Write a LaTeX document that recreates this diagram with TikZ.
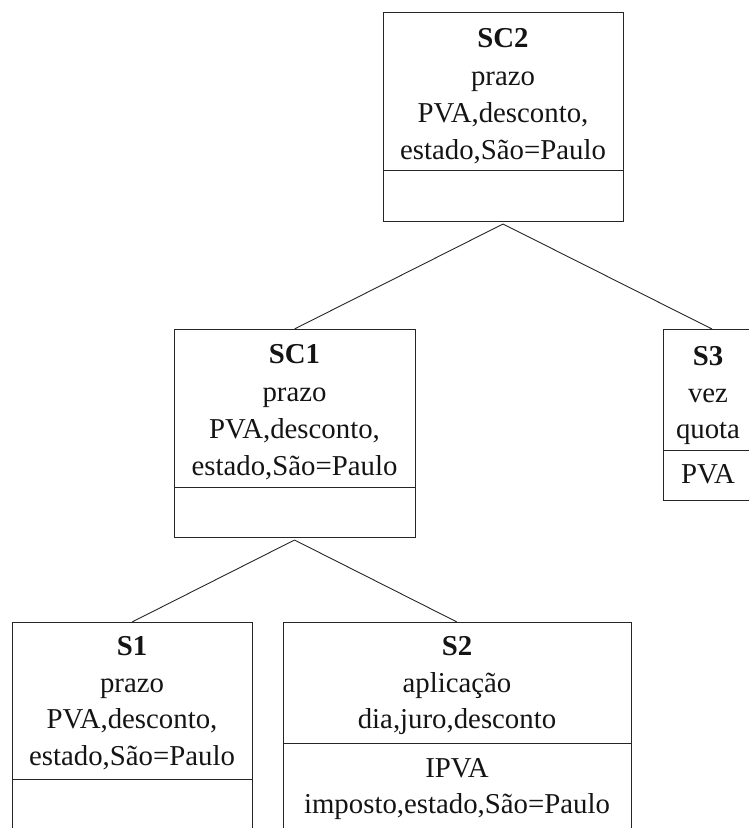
\documentclass[tikz,border=0pt]{standalone}
\usepackage{fontspec}
\setmainfont{Liberation Serif}
\begin{document}
\begin{tikzpicture}[x=1pt,y=-1pt,
  linec/.style={draw=black!85, line width=1pt},
  box/.style={rectangle, linec, inner sep=0pt, outer sep=0pt},
  txt/.style={anchor=base, inner sep=0pt, font=\fontsize{28.8}{36}\selectfont, text=black!92},
  divider/.style={linec},
  edge/.style={linec, line width=0.9pt}]
\useasboundingbox (0,0) rectangle (749,828);
\clip (0,0) rectangle (749,828);

% class boxes
\node[box, minimum width=240pt, minimum height=209pt] (sc2) at (503,116.5) {};
\node[box, minimum width=241pt, minimum height=208pt] (sc1) at (294.5,433) {};
\node[box, minimum width=92pt,  minimum height=171pt] (s3)  at (709,414.5) {};
\node[box, minimum width=240pt, minimum height=210pt] (s1)  at (132,727) {};
\node[box, minimum width=348pt, minimum height=210pt] (s2)  at (457,727) {};

% compartment dividers
\draw[divider] (sc2.west |- 0,170) -- (sc2.east |- 0,170);
\draw[divider] (sc1.west |- 0,487) -- (sc1.east |- 0,487);
\draw[divider] (s3.west |- 0,450)  -- (s3.east |- 0,450);
\draw[divider] (s1.west |- 0,779)  -- (s1.east |- 0,779);
\draw[divider] (s2.west |- 0,743)  -- (s2.east |- 0,743);

% SC2
\node[txt] (sc2-a) at (503,47)  {\textbf{SC2}};
\node[txt] (sc2-b) at (503,85)  {prazo};
\node[txt] (sc2-c) at (503,122) {PVA,desconto,};
\node[txt] (sc2-d) at (503,159) {estado,São=Paulo};

% SC1
\node[txt] (sc1-a) at (294.5,363) {\textbf{SC1}};
\node[txt] (sc1-b) at (294.5,401) {prazo};
\node[txt] (sc1-c) at (294.5,438) {PVA,desconto,};
\node[txt] (sc1-d) at (294.5,475) {estado,São=Paulo};

% S3
\node[txt] (s3-a) at (708,365) {\textbf{S3}};
\node[txt] (s3-b) at (708,402) {vez};
\node[txt] (s3-c) at (708,438) {quota};
\node[txt] (s3-d) at (708,483) {PVA};

% S1
\node[txt] (s1-a) at (132,655) {\textbf{S1}};
\node[txt] (s1-b) at (132,692) {prazo};
\node[txt] (s1-c) at (132,728) {PVA,desconto,};
\node[txt] (s1-d) at (132,765) {estado,São=Paulo};

% S2
\node[txt] (s2-a) at (457,655) {\textbf{S2}};
\node[txt] (s2-b) at (457,692) {aplicação};
\node[txt] (s2-c) at (457,728) {dia,juro,desconto};
\node[txt] (s2-d) at (457,777) {IPVA};
\node[txt] (s2-e) at (457,813) {imposto,estado,São=Paulo};

% hierarchy links
\coordinate (fork2) at ([yshift=-3pt]sc2.south);
\coordinate (fork1) at ([yshift=-3pt]sc1.south);
\draw[edge] (fork2) -- (sc1.north);
\draw[edge] (fork2) -- ([xshift=3pt]s3.north);
\draw[edge] (fork1) -- (s1.north);
\draw[edge] (fork1) -- (s2.north);
\end{tikzpicture}
\end{document}
